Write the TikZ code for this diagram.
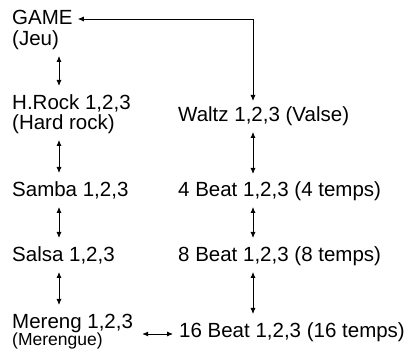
\documentclass[tikz,border=0pt]{standalone}
\usepackage{fontspec}
\setmainfont{Liberation Sans}
\usetikzlibrary{arrows.meta}
\begin{document}
\begin{tikzpicture}[x=1pt,y=1pt,
  txt/.style={anchor=base west, inner sep=0pt, font=\fontsize{20.5}{24}\selectfont},
  small/.style={anchor=base west, inner sep=0pt, font=\fontsize{17.5}{20}\selectfont},
  conn/.style={line width=0.8pt, {Latex[length=6pt,width=5pt]}-{Latex[length=6pt,width=5pt]}}]
\useasboundingbox (0,0) rectangle (407,-352);
% left column
\node[txt] (game) at (12,-25) {GAME};
\node[txt] (jeu) at (12,-46) {(Jeu)};
\node[txt] (hr) at (12,-110) {H.Rock 1,2,3};
\node[txt] (hrd) at (12,-130) {(Hard rock)};
\node[txt] (samba) at (12,-197) {Samba 1,2,3};
\node[txt] (salsa) at (12,-262) {Salsa 1,2,3};
\node[txt] (mer) at (12,-329) {Mereng 1,2,3};
\node[small] (merd) at (12,-346) {(Merengue)};
% right column
\node[txt] (waltz) at (178,-122) {Waltz 1,2,3 (Valse)};
\node[txt] (b4) at (178,-197) {4 Beat 1,2,3 (4 temps)};
\node[txt] (b8) at (178,-262) {8 Beat 1,2,3 (8 temps)};
\node[txt] (b16) at (179,-338) {16 Beat 1,2,3 (16 temps)};
\coordinate (lx) at (59,0);
\coordinate (rx) at (253,0);
% connectors
\draw[conn] ([shift={(5pt,6pt)}]game.base east) -| ([yshift=21pt]waltz.base -| rx);
\draw[conn] ([yshift=-10pt]jeu.base -| lx) -- ([yshift=24pt]hr.base -| lx);
\draw[conn] ([yshift=-10pt]hrd.base -| lx) -- ([yshift=24pt]samba.base -| lx);
\draw[conn] ([yshift=-10pt]samba.base -| lx) -- ([yshift=24pt]salsa.base -| lx);
\draw[conn] ([yshift=-10pt]salsa.base -| lx) -- ([yshift=24pt]mer.base -| lx);
\draw[conn] ([yshift=-10pt]waltz.base -| rx) -- ([yshift=23pt]b4.base -| rx);
\draw[conn] ([yshift=-10pt]b4.base -| rx) -- ([yshift=24pt]b8.base -| rx);
\draw[conn] ([yshift=-10pt]b8.base -| rx) -- ([yshift=24pt]b16.base -| rx);
\coordinate (hy) at ([yshift=4pt]b16.base west);
\draw[conn] ([xshift=9pt]mer.east |- hy) -- ([xshift=-6pt]hy);
\end{tikzpicture}
\end{document}
